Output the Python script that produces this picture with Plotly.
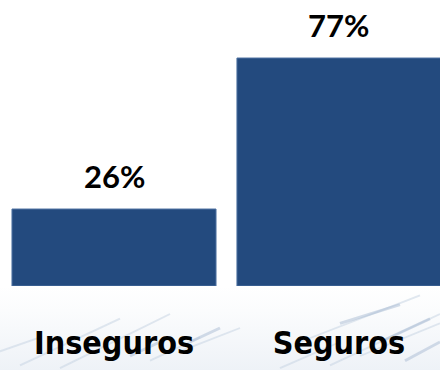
import base64
import plotly.graph_objects as go

categories = ["Inseguros", "Seguros"]
values = [26, 77]
value_labels = ["26%", "77%"]

bar_color = "#234A7E"

# faint decorative background band (sketch-like streaks) at the bottom
svg = """<svg xmlns='http://www.w3.org/2000/svg' width='440' height='90' viewBox='0 0 440 90'>
<defs><linearGradient id='g' x1='0' y1='0' x2='0' y2='1'>
<stop offset='0' stop-color='#ffffff'/><stop offset='0.3' stop-color='#fbfcfd'/><stop offset='1' stop-color='#eef2f7'/></linearGradient></defs>
<rect width='440' height='90' fill='url(#g)'/>
<g stroke='#c3d1e1' stroke-opacity='0.5' stroke-width='2' fill='none'>
<path d='M20 85 L120 35'/><path d='M60 88 L170 30'/><path d='M150 80 L200 55'/>
<path d='M180 70 L240 45'/><path d='M300 60 L420 10'/><path d='M330 85 L440 30'/>
<path d='M360 75 L440 40'/><path d='M280 88 L340 60'/><path d='M0 70 L40 55'/>
</g>
<g stroke='#9fb4cf' stroke-opacity='0.45' stroke-width='3' fill='none'>
<path d='M190 60 L220 45'/><path d='M340 40 L400 20'/><path d='M380 60 L430 35'/>
<path d='M130 75 L170 55'/><path d='M405 80 L440 60'/>
</g>
</svg>"""
svg_uri = "data:image/svg+xml;base64," + base64.b64encode(svg.encode()).decode()

fig = go.Figure()
fig.add_trace(go.Bar(
    x=categories,
    y=values,
    width=0.907,
    marker=dict(color=bar_color, line=dict(color="#4F73A3", width=1)),
    hoverinfo="skip",
))

for c, v, t in zip(categories, values, value_labels):
    fig.add_annotation(
        x=c, y=v, text=t, showarrow=False,
        yanchor="bottom", yshift=13, borderpad=0,
        font=dict(family="Lato, 'Open Sans', sans-serif", size=31, color="#000000", weight="bold"),
    )

fig.add_layout_image(dict(
    source=svg_uri, xref="paper", yref="paper",
    x=0, y=0, sizex=1, sizey=84 / 286, xanchor="left", yanchor="top",
    sizing="stretch", layer="below",
))

fig.update_layout(
    width=440, height=370,
    margin=dict(l=0, r=0, t=0, b=84, autoexpand=False),
    paper_bgcolor="#ffffff",
    plot_bgcolor="rgba(0,0,0,0)",
    showlegend=False,
    bargap=0.093,
    xaxis=dict(
        range=[-0.5067, 1.449],
        automargin=False,
        showgrid=False, zeroline=False, showline=False, ticks="",
        ticklabelstandoff=35,
        tickfont=dict(family="'DejaVu Sans Condensed', 'DejaVu Sans', sans-serif",
                      size=32, color="#000000", weight="bold"),
    ),
    yaxis=dict(
        range=[0, 96.6], visible=False, showgrid=False, zeroline=False,
        automargin=False,
    ),
)

fig.write_html(
    "out.html",
    config={"displayModeBar": False, "staticPlot": True},
    post_script="document.body.style.margin='0';document.body.style.overflow='hidden';",
)
